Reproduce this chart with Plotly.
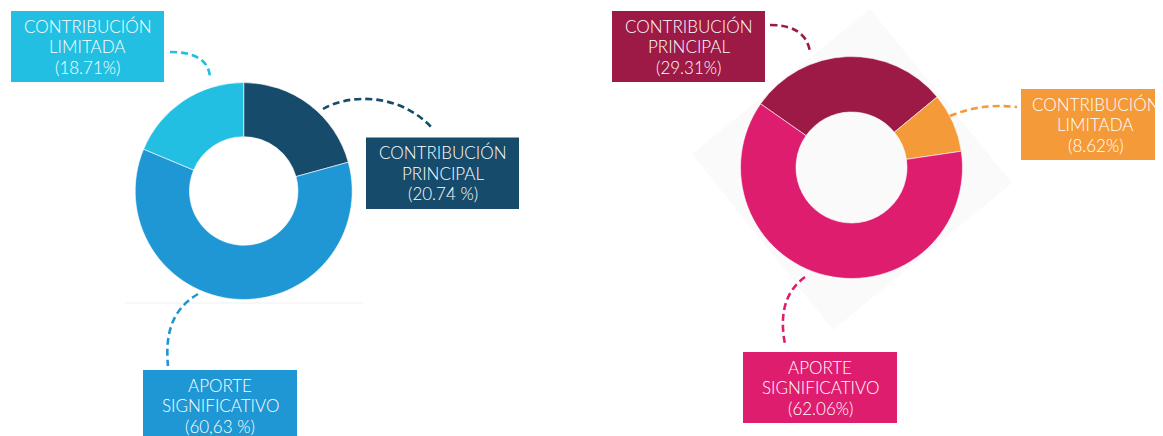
import plotly.graph_objects as go

# ---------------- data ----------------
left_labels = ["CONTRIBUCIÓN<br>PRINCIPAL", "APORTE<br>SIGNIFICATIVO", "CONTRIBUCIÓN<br>LIMITADA"]
left_values = [20.74, 60.63, 18.71]
left_pct_text = ["(20.74 %)", "(60,63 %)", "(18.71%)"]
left_colors = ["#164B6B", "#1E97D4", "#22BFE2"]

right_labels = ["CONTRIBUCIÓN<br>PRINCIPAL", "CONTRIBUCIÓN<br>LIMITADA", "APORTE<br>SIGNIFICATIVO"]
right_values = [29.31, 8.62, 62.06]
right_pct_text = ["(29.31%)", "(8.62%)", "(62.06%)"]
right_colors = ["#9D1946", "#F59A38", "#DF1D6E"]

# page is W x H, but the html body has an 8px margin
W, H = 1163, 436
OFF = 8
FW, FH = W - OFF, H - OFF

# layout geometry (page pixels)
left_center, left_r = (243.7, 191.0), 108.5
right_center, right_r = (851.5, 167.5), 111.0

# label boxes (x0, y0, x1, y1) in page pixel coords, same order as the data
left_boxes = [(366, 137.5, 519, 209), (143, 370, 297, 441), (11, 11, 164, 82)]
right_boxes = [(612, 11, 765, 82), (1021, 89, 1170, 160), (743, 352, 897, 423)]

left_paths = [
    "M 323,109 C 348,94 400,92 433,129",
    "M 198,294 C 178,306 164,325 168,366",
    "M 170,52 Q 208,52 210,77",
]
right_paths = [
    "M 770,25 Q 806,25 810,52",
    "M 950,116 Q 980,103 1017,107",
    "M 805,277 Q 776,298 785,344",
]

LINE_GAP = 20.5


def domain(center, r):
    cx, cy = center[0] - OFF, center[1] - OFF
    return dict(x=[(cx - r) / FW, (cx + r) / FW], y=[(FH - cy - r) / FH, (FH - cy + r) / FH])


fig = go.Figure()

fig.add_trace(go.Pie(
    labels=left_labels, values=left_values, hole=0.5, sort=False,
    direction="clockwise", rotation=0, textinfo="none", hoverinfo="skip",
    marker=dict(colors=left_colors, line=dict(color="rgba(255,255,255,0.6)", width=1)),
    domain=domain(left_center, left_r), showlegend=False,
))
fig.add_trace(go.Pie(
    labels=right_labels, values=right_values, hole=0.5, sort=False,
    direction="clockwise", rotation=-55, textinfo="none", hoverinfo="skip",
    marker=dict(colors=right_colors, line=dict(color="rgba(255,255,255,0.6)", width=1)),
    domain=domain(right_center, right_r), showlegend=False,
))

shapes = []
# faint background decorations
shapes.append(dict(type="path", xref="x", yref="y", layer="below",
                   path="M 870,9 L 1012,183 L 833,330 L 692,154 Z",
                   fillcolor="#fafafa", line=dict(width=0)))
shapes.append(dict(type="line", xref="x", yref="y", layer="below",
                   x0=125, x1=363, y0=303, y1=303,
                   line=dict(color="#f0f0f0", width=1.2)))

annotations = []
for boxes, paths, colors, labels, pcts in [
    (left_boxes, left_paths, left_colors, left_labels, left_pct_text),
    (right_boxes, right_paths, right_colors, right_labels, right_pct_text),
]:
    for (x0, y0, x1, y1), p, c, lab, pct in zip(boxes, paths, colors, labels, pcts):
        shapes.append(dict(type="rect", xref="x", yref="y", x0=x0, x1=x1, y0=y0, y1=y1,
                           fillcolor=c, line=dict(width=0), layer="above"))
        shapes.append(dict(type="path", xref="x", yref="y", path=p,
                           line=dict(color=c, width=2.6, dash="7px,4px"), layer="above"))
        lines = lab.split("<br>") + [pct]
        cy = (y0 + y1) / 2
        n = len(lines)
        for i, t in enumerate(lines):
            annotations.append(dict(x=(x0 + x1) / 2, y=cy + (i - (n - 1) / 2) * LINE_GAP,
                                    xref="x", yref="y", text=t, showarrow=False,
                                    font=dict(family="Lato", size=17, color="#ffffff", weight=300),
                                    align="center", xanchor="center", yanchor="middle"))

fig.update_layout(
    width=FW, height=FH, margin=dict(l=0, r=0, t=0, b=0),
    paper_bgcolor="white", plot_bgcolor="white",
    xaxis=dict(range=[OFF, W], visible=False, fixedrange=True),
    yaxis=dict(range=[H, OFF], visible=False, fixedrange=True),
    shapes=shapes, annotations=annotations,
)

fig.write_html("out.html")
